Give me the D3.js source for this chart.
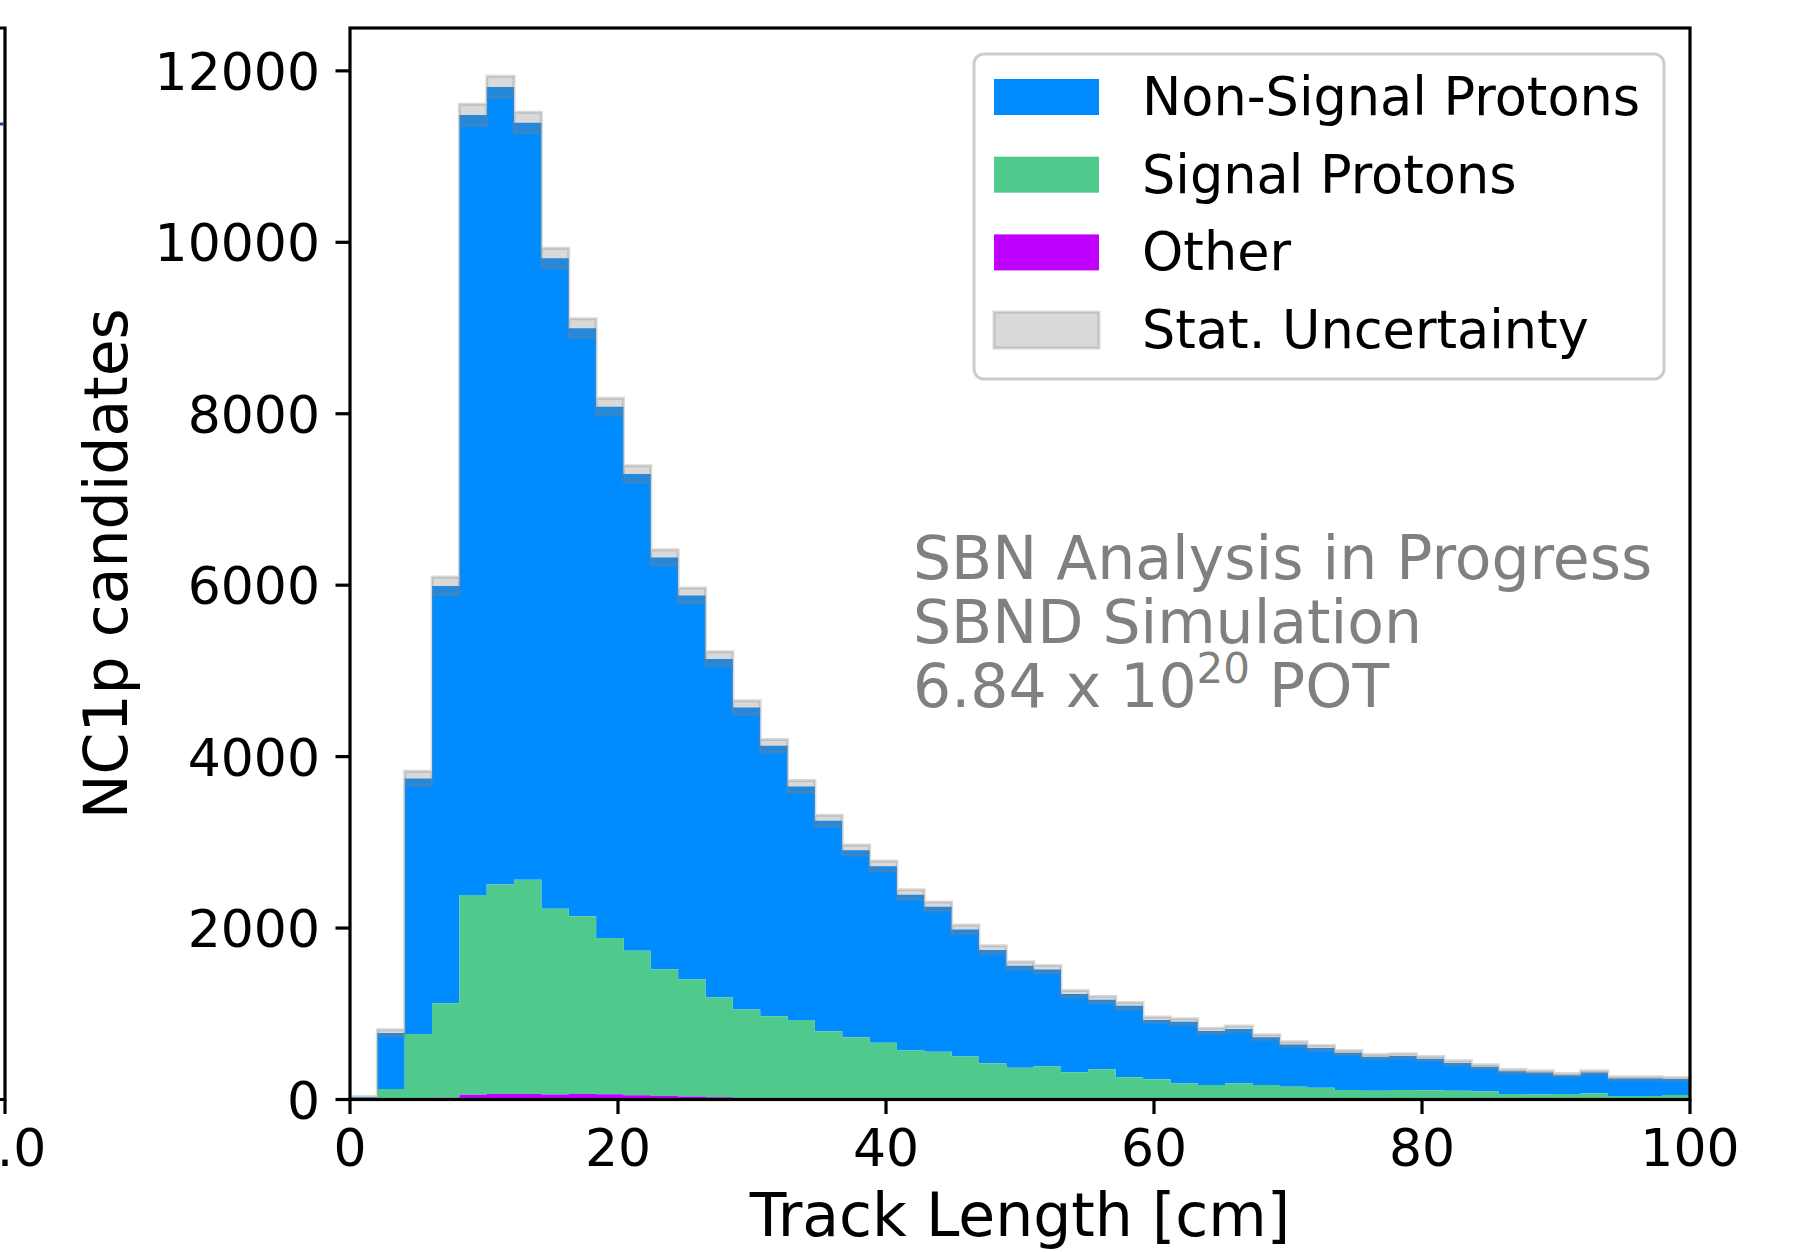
<!DOCTYPE html>
<html><head><meta charset="utf-8">
<script src="https://cdn.jsdelivr.net/npm/d3@7"></script>
<style>html,body{margin:0;padding:0;background:#fff;} svg{display:block;font-family:"DejaVu Sans",sans-serif;}</style>
</head><body><svg id="c" width="1816" height="1252"></svg>
<script>
// ---- data (49 bins spanning 0-100 cm) ----
const xRange = [0, 100];
const nBins = 49;
const nonSignal = [20, 652, 2980, 4866, 9100, 9305, 8833, 7591, 6860, 6197,
  5562, 4802, 4478, 3950, 3524, 3155, 2722, 2456, 2183, 2060,
  1818, 1692, 1480, 1321, 1189, 1131, 915, 809, 832, 692,
  719, 630, 634, 556, 493, 463, 435, 396, 396, 369,
  324, 289, 265, 253, 219, 243, 205, 205, 186];
const signal = [5, 123, 761, 1104, 2331, 2443, 2498, 2167, 2073, 1825,
  1685, 1478, 1367, 1163, 1033, 961, 922, 790, 721, 659,
  569, 553, 500, 421, 368, 384, 315, 352, 259, 233,
  187, 167, 187, 167, 148, 136, 109, 101, 109, 105,
  101, 90, 63, 60, 63, 70, 39, 39, 51];
const other = [0, 0, 4, 20, 55, 65, 65, 57, 65, 60,
  50, 42, 35, 27, 16, 10, 6, 5, 4, 3,
  3, 3, 3, 3, 3, 2, 2, 2, 2, 2,
  2, 2, 2, 2, 2, 2, 2, 2, 2, 2,
  2, 2, 2, 2, 2, 2, 2, 2, 2];
const statErr = [10, 40, 85, 105, 125, 125, 122, 115, 110, 100,
  95, 90, 88, 82, 78, 75, 70, 66, 62, 60,
  56, 55, 52, 48, 46, 45, 40, 40, 38, 36,
  35, 33, 33, 31, 30, 29, 27, 26, 26, 25,
  24, 23, 21, 21, 20, 21, 19, 19, 18];
const xTicks = [0, 20, 40, 60, 80, 100];
const yTicks = [0, 2000, 4000, 6000, 8000, 10000, 12000];
const legendLabels = ["Non-Signal Protons", "Signal Protons", "Other", "Stat. Uncertainty"];
const annotationLines = ["SBN Analysis in Progress", "SBND Simulation"];
const potLine = ["6.84 x 10", "20", " POT"];
const xLabel = "Track Length [cm]";
const yLabel = "NC1p candidates";

// ---- styles ----
const C_NON = "#008cff", C_SIG = "#50c98c", C_OTH = "#c000ff";
const svg = d3.select("#c");
svg.append("rect").attr("width", 1816).attr("height", 1252).attr("fill", "#fff");

const L = 350, R = 1690, T = 28, B = 1099.5;
const x = d3.scaleLinear().domain(xRange).range([L, R]);
const y = d3.scaleLinear().domain([0, 12500]).range([B, T]);

const edges = d3.range(nBins + 1).map(k => xRange[0] + k * (xRange[1] - xRange[0]) / nBins);
const rows = d3.range(nBins).map(i => ({other: other[i], signal: signal[i], nonSignal: nonSignal[i]}));
const stack = d3.stack().keys(["other", "signal", "nonSignal"]);
const layers = stack(rows);

function stepPts(getLo, getHi) {
  return edges.map((e, k) => {
    const i = Math.min(k, nBins - 1);
    return {x: e, lo: getLo(i), hi: getHi(i)};
  });
}
const area = d3.area().x(d => x(d.x)).y0(d => y(d.lo)).y1(d => y(d.hi)).curve(d3.curveStepAfter);

const colorOf = {other: C_OTH, signal: C_SIG, nonSignal: C_NON};
const plot = svg.append("g");
["nonSignal", "signal", "other"].forEach(key => {
  const layer = layers.find(l => l.key === key);
  plot.append("path")
    .attr("d", area(stepPts(i => layer[i][0], i => layer[i][1])))
    .attr("fill", colorOf[key]);
});

// stat uncertainty band
const total = d3.range(nBins).map(i => nonSignal[i] + signal[i] + other[i]);
plot.append("path")
  .attr("d", area(stepPts(i => total[i] - statErr[i], i => total[i] + statErr[i])))
  .attr("fill", "#808080").attr("fill-opacity", 0.3)
  .attr("stroke", "#808080").attr("stroke-opacity", 0.3).attr("stroke-width", 3);

// ---- axes ----
const ax = svg.append("g").attr("stroke", "#000").attr("stroke-width", 3.2).attr("fill", "none");
ax.append("rect").attr("x", L).attr("y", T).attr("width", R - L).attr("height", B - T);
xTicks.forEach(t => {
  ax.append("line").attr("x1", x(t)).attr("x2", x(t)).attr("y1", B).attr("y2", B + 14.5);
  svg.append("text").attr("x", x(t)).attr("y", B + 66).attr("text-anchor", "middle")
    .attr("font-size", 52).attr("fill", "#000").text(t);
});
yTicks.forEach(t => {
  ax.append("line").attr("x1", L).attr("x2", L - 14.5).attr("y1", y(t)).attr("y2", y(t));
  svg.append("text").attr("x", L - 30).attr("y", y(t) + 19).attr("text-anchor", "end")
    .attr("font-size", 52).attr("fill", "#000").text(t);
});
svg.append("text").attr("x", (L + R) / 2).attr("y", 1236).attr("text-anchor", "middle")
  .attr("font-size", 60).attr("fill", "#000").text(xLabel);
svg.append("text").attr("transform", `translate(127,${(T + B) / 2}) rotate(-90)`)
  .attr("text-anchor", "middle").attr("font-size", 60).attr("fill", "#000").text(yLabel);

// ---- partial neighbouring panel at left edge ----
const lp = svg.append("g").attr("stroke", "#000").attr("stroke-width", 3.2).attr("fill", "none");
lp.append("path").attr("d", `M0,${T} H5 V${B} H0`);
lp.append("line").attr("x1", 5).attr("x2", 5).attr("y1", B).attr("y2", B + 14.5);
svg.append("line").attr("x1", 0).attr("x2", 4).attr("y1", 124).attr("y2", 124)
  .attr("stroke", "#23408e").attr("stroke-width", 3);
svg.append("text").attr("x", 5).attr("y", B + 66).attr("text-anchor", "middle")
  .attr("font-size", 52).attr("fill", "#000").text("1.0");

// ---- annotation ----
const annX = 913;
annotationLines.forEach((s, i) => {
  svg.append("text").attr("x", annX).attr("y", 579 + i * 64).attr("font-size", 60)
    .attr("fill", "#808080").text(s);
});
const pot = svg.append("text").attr("x", annX).attr("y", 707).attr("font-size", 60).attr("fill", "#808080");
pot.append("tspan").text(potLine[0]);
pot.append("tspan").attr("font-size", 42).attr("dy", -24).text(potLine[1]);
pot.append("tspan").attr("dy", 24).text(potLine[2]);

// ---- legend ----
const lg = svg.append("g");
lg.append("rect").attr("x", 974).attr("y", 54).attr("width", 690).attr("height", 325)
  .attr("rx", 10).attr("fill", "#fff").attr("fill-opacity", 0.8)
  .attr("stroke", "#cccccc").attr("stroke-width", 3);
const legendFill = [C_NON, C_SIG, C_OTH, null];
legendLabels.forEach((lab, i) => {
  const cy = 97 + i * 77.7;
  const r = lg.append("rect").attr("x", 994).attr("y", cy - 18).attr("width", 105).attr("height", 36);
  if (legendFill[i]) r.attr("fill", legendFill[i]);
  else r.attr("fill", "#808080").attr("fill-opacity", 0.3).attr("stroke", "#808080")
        .attr("stroke-opacity", 0.3).attr("stroke-width", 3);
  lg.append("text").attr("x", 1142).attr("y", cy + 18).attr("font-size", 52.5)
    .attr("fill", "#000").text(lab);
});
</script></body></html>
